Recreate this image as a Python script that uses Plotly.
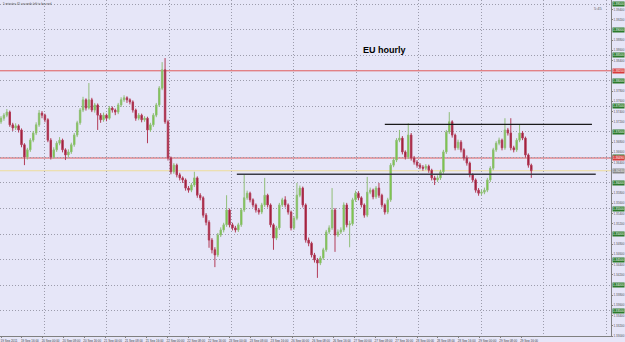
import plotly.graph_objects as go
import numpy as np

# ---- data (prices in pips: 13720 -> 1.3720) ----
OPEN = [13720,13727,13733,13739,13714,13708,13712,13704,13675,13651,13665,13684,13698,13714,13737,13733,13724,13684,13651,13665,
        13678,13684,13665,13655,13661,13675,13694,13718,13743,13763,13747,13763,13743,13753,13733,13724,13733,13727,13747,13743,
        13739,13753,13763,13767,13763,13759,13743,13727,13733,13724,13727,13704,13714,13733,13753,13786,13822,13720,13649,13622,
        13635,13616,13610,13606,13590,13586,13596,13610,13576,13571,13537,13523,13488,13469,13459,13498,13508,13518,13547,13518,
        13512,13508,13518,13547,13571,13580,13567,13557,13547,13543,13557,13576,13557,13518,13492,13512,13557,13567,13557,13543,
        13512,13531,13576,13590,13557,13488,13482,13459,13449,13443,13453,13469,13504,13512,13547,13498,13504,13508,13557,13518,
        13520,13567,13580,13571,13557,13537,13582,13586,13573,13590,13576,13557,13543,13567,13635,13645,13684,13688,13661,13651,
        13694,13649,13641,13635,13631,13629,13633,13625,13610,13606,13610,13622,13661,13700,13720,13694,13669,13680,13665,13649,
        13639,13616,13606,13586,13580,13582,13586,13606,13629,13665,13678,13684,13669,13704,13698,13669,13665,13684,13698,13688,
        13655,13635]
CLOSE = [13727,13733,13739,13714,13708,13712,13704,13675,13651,13665,13684,13698,13714,13737,13733,13724,13684,13651,13665,13678,
         13684,13665,13655,13661,13675,13694,13718,13743,13763,13747,13763,13743,13753,13733,13724,13733,13727,13747,13743,13739,
         13753,13763,13767,13763,13759,13743,13727,13733,13724,13727,13704,13714,13733,13753,13786,13822,13720,13649,13622,13635,
         13616,13610,13606,13590,13586,13596,13610,13576,13571,13537,13523,13488,13469,13459,13498,13508,13518,13547,13518,13512,
         13508,13518,13547,13571,13580,13567,13557,13547,13543,13557,13576,13557,13518,13492,13512,13557,13567,13557,13543,13512,
         13531,13576,13590,13557,13488,13482,13459,13449,13443,13453,13469,13504,13512,13547,13498,13504,13508,13557,13518,13520,
         13567,13580,13571,13557,13537,13582,13586,13573,13590,13576,13557,13543,13567,13635,13645,13684,13688,13661,13651,13694,
         13649,13641,13635,13631,13629,13633,13625,13610,13606,13610,13622,13661,13700,13720,13694,13669,13680,13665,13649,13639,
         13616,13606,13586,13580,13582,13586,13606,13629,13665,13678,13684,13669,13704,13698,13669,13665,13684,13698,13688,13655,
         13635,13624]
HIGH = [13731,13737,13745,13742,13718,13717,13715,13707,13678,13669,13688,13702,13719,13743,13741,13736,13727,13688,13670,13682,
        13690,13687,13668,13666,13679,13698,13722,13747,13769,13766,13796,13767,13757,13756,13737,13738,13736,13751,13750,13746,
        13757,13768,13772,13770,13766,13762,13746,13737,13736,13731,13730,13718,13737,13757,13790,13837,13845,13724,13652,13639,
        13638,13620,13613,13609,13594,13600,13622,13613,13580,13574,13541,13527,13492,13474,13502,13513,13522,13576,13550,13522,
        13516,13522,13551,13617,13585,13583,13570,13560,13551,13561,13610,13579,13560,13521,13516,13561,13571,13574,13560,13546,
        13535,13600,13595,13593,13560,13493,13485,13463,13453,13457,13473,13508,13517,13590,13551,13509,13513,13562,13561,13526,
        13571,13585,13584,13574,13560,13612,13591,13589,13594,13600,13579,13560,13571,13639,13650,13688,13704,13692,13664,13717,
        13698,13653,13645,13639,13635,13637,13636,13628,13614,13615,13626,13665,13704,13739,13723,13697,13685,13684,13668,13654,
        13642,13619,13609,13590,13587,13591,13610,13633,13669,13682,13689,13687,13727,13708,13727,13673,13688,13714,13702,13691,
        13658,13638]
LOW = [13716,13722,13729,13710,13702,13704,13699,13670,13635,13646,13661,13680,13694,13710,13727,13719,13680,13646,13648,13661,
       13674,13660,13645,13650,13657,13671,13690,13714,13739,13742,13744,13739,13738,13704,13718,13720,13721,13724,13738,13733,
       13735,13749,13759,13757,13754,13738,13722,13723,13719,13720,13678,13700,13710,13729,13749,13782,13716,13644,13617,13618,
       13611,13605,13600,13585,13581,13582,13592,13571,13566,13532,13517,13473,13462,13435,13455,13494,13503,13514,13513,13507,
       13503,13504,13514,13543,13567,13562,13552,13542,13538,13539,13553,13552,13513,13469,13488,13508,13553,13552,13538,13507,
       13508,13527,13572,13552,13483,13476,13454,13444,13414,13439,13449,13465,13500,13508,13465,13494,13500,13504,13513,13474,
       13516,13563,13566,13552,13532,13533,13578,13568,13569,13571,13552,13538,13539,13563,13631,13641,13680,13656,13646,13647,
       13644,13636,13630,13627,13624,13625,13620,13605,13596,13602,13606,13618,13657,13696,13689,13664,13665,13660,13644,13634,
       13611,13601,13581,13575,13576,13578,13582,13602,13625,13661,13674,13664,13665,13693,13664,13660,13661,13680,13684,13650,
       13630,13610]
PIP = 10000.0

RED_LEVELS = [13820, 13649]          # horizontal red lines
BID_LEVEL = 13624                     # current bid line
TRENDLINES = [                        # (start bar, end bar, level, colour, width)
    (131.0, 201.7, 13715, "#1a1a1a", 1.2),
    (80.5, 203.0, 13617, "#3a3a44", 1.6),
]
GRID_LEVELS = [13350 + 50 * k for k in range(13)]
X_LABELS = ["19 Sep 2011", "19 Sep 16:00", "20 Sep 00:00", "20 Sep 08:00", "20 Sep 16:00", "21 Sep 00:00",
            "21 Sep 08:00", "21 Sep 16:00", "22 Sep 00:00", "22 Sep 08:00", "22 Sep 16:00", "23 Sep 00:00",
            "23 Sep 08:00", "23 Sep 16:00", "26 Sep 00:00", "26 Sep 08:00", "26 Sep 16:00", "27 Sep 00:00",
            "27 Sep 08:00", "27 Sep 16:00", "28 Sep 00:00", "28 Sep 08:00", "28 Sep 16:00", "29 Sep 00:00",
            "29 Sep 08:00", "29 Sep 16:00"]

o = np.array(OPEN) / PIP
c = np.array(CLOSE) / PIP
h = np.array(HIGH) / PIP
l = np.array(LOW) / PIP
idx = np.arange(len(c))

BG = "#E6E6F8"
GRIDC = "#9C9CAC"
fig = go.Figure()
fig.add_trace(go.Candlestick(
    x=idx, open=o, high=h, low=l, close=c,
    increasing=dict(fillcolor="#6CCB28", line=dict(color="#90BE78", width=1)),
    decreasing=dict(fillcolor="#930A28", line=dict(color="#B23C58", width=1)),
    whiskerwidth=0, showlegend=False, hoverinfo="skip"))

for (x0, x1, lvl, col, w) in TRENDLINES:
    fig.add_trace(go.Scatter(x=[x0, x1], y=[lvl / PIP, lvl / PIP], mode="lines",
                             line=dict(color=col, width=w), showlegend=False, hoverinfo="skip"))

# invisible trace carrying the grid axes
fig.add_trace(go.Scatter(x=[0], y=[c[0]], xaxis="x2", yaxis="y2", mode="markers",
                         marker=dict(opacity=0), showlegend=False, hoverinfo="skip"))

shapes = []
for lvl in RED_LEVELS:
    shapes.append(dict(type="line", xref="paper", x0=0, x1=1, yref="y", y0=lvl / PIP, y1=lvl / PIP,
                       line=dict(color="#E05A5A", width=1), layer="below"))
shapes.append(dict(type="line", xref="paper", x0=0, x1=1, yref="y", y0=BID_LEVEL / PIP, y1=BID_LEVEL / PIP,
                   line=dict(color="#EEDC9A", width=1), layer="below"))

ann = []
ann.append(dict(text="<b>EU hourly</b>", x=0.63, y=0.872, xref="paper", yref="paper", showarrow=False,
                font=dict(size=9, color="#000000", family="Liberation Sans")))
ann.append(dict(text="5 minutes 45 seconds left to bar end", x=0.002, y=1.0, xref="paper", yref="paper",
                xanchor="left", yanchor="top", showarrow=False,
                font=dict(size=3, color="#505050", family="Liberation Sans")))
ann.append(dict(text="5:45", x=0.99, y=0.975, xref="paper", yref="paper", xanchor="right", yanchor="middle",
                showarrow=False, font=dict(size=4, color="#606060", family="Liberation Sans")))
box_levels = []
for lvl in GRID_LEVELS:
    if lvl in RED_LEVELS:
        continue
    box_levels.append(lvl)
    ann.append(dict(text=f"{lvl / PIP:.5f}", x=1, xref="paper", y=lvl / PIP, yref="y", xanchor="left",
                    xshift=1, showarrow=False, bgcolor="#2C7A2C", borderpad=0,
                    font=dict(size=3, color="#FFFFFF", family="Liberation Sans")))
for lvl in RED_LEVELS:
    box_levels.append(lvl)
    ann.append(dict(text=f"{lvl / PIP:.5f}", x=1, xref="paper", y=lvl / PIP, yref="y", xanchor="left",
                    xshift=1, showarrow=False, bgcolor="#D83A3A", borderpad=0,
                    font=dict(size=3, color="#FFFFFF", family="Liberation Sans")))
box_levels.append(BID_LEVEL)
ann.append(dict(text=f"{BID_LEVEL / PIP:.5f}", x=1, xref="paper", y=BID_LEVEL / PIP, yref="y", xanchor="left",
                xshift=1, showarrow=False, bgcolor="#8A8A8A", borderpad=0,
                font=dict(size=3, color="#FFFFFF", family="Liberation Sans")))

XR = [-0.34, 208.2]
tickpos = np.arange(len(X_LABELS)) * 7.1
ytick_pips = [v for v in range(13300, 13960, 20) if min(abs(v - b) for b in box_levels) > 8]
yticks = np.array(ytick_pips) / PIP

fig.update_layout(
    width=625, height=342, margin=dict(l=0, r=14, t=0, b=6),
    paper_bgcolor=BG, plot_bgcolor=BG, shapes=shapes, annotations=ann,
    showlegend=False,
    xaxis=dict(range=XR, rangeslider=dict(visible=False), showgrid=False, zeroline=False,
               tickvals=tickpos, ticktext=X_LABELS, ticklabelshift=8, ticks="outside", ticklen=1,
               tickcolor="#808080", tickfont=dict(size=3, color="#404040", family="Liberation Sans"),
               showline=True, linecolor="#808080", linewidth=1),
    xaxis2=dict(range=XR, overlaying="x", showticklabels=False, tick0=14.68, dtick=21.33,
                showgrid=True, gridcolor=GRIDC, griddash="1px,2px", gridwidth=1, zeroline=False, ticks=""),
    yaxis=dict(range=[1.3300, 1.39588], side="right", showgrid=False, zeroline=False,
               tickvals=yticks, ticktext=[f"{v:.5f}" for v in yticks], ticks="outside", ticklen=1,
               tickcolor="#808080", tickfont=dict(size=3, color="#505050", family="Liberation Sans"),
               showline=True, linecolor="#808080", linewidth=1),
    yaxis2=dict(range=[1.3300, 1.39588], overlaying="y", side="right", showticklabels=False,
                tickvals=np.array(GRID_LEVELS) / PIP, showgrid=True, gridcolor=GRIDC, griddash="1px,2px",
                gridwidth=1, zeroline=False, ticks=""),
)
fig.write_html("out.html")
